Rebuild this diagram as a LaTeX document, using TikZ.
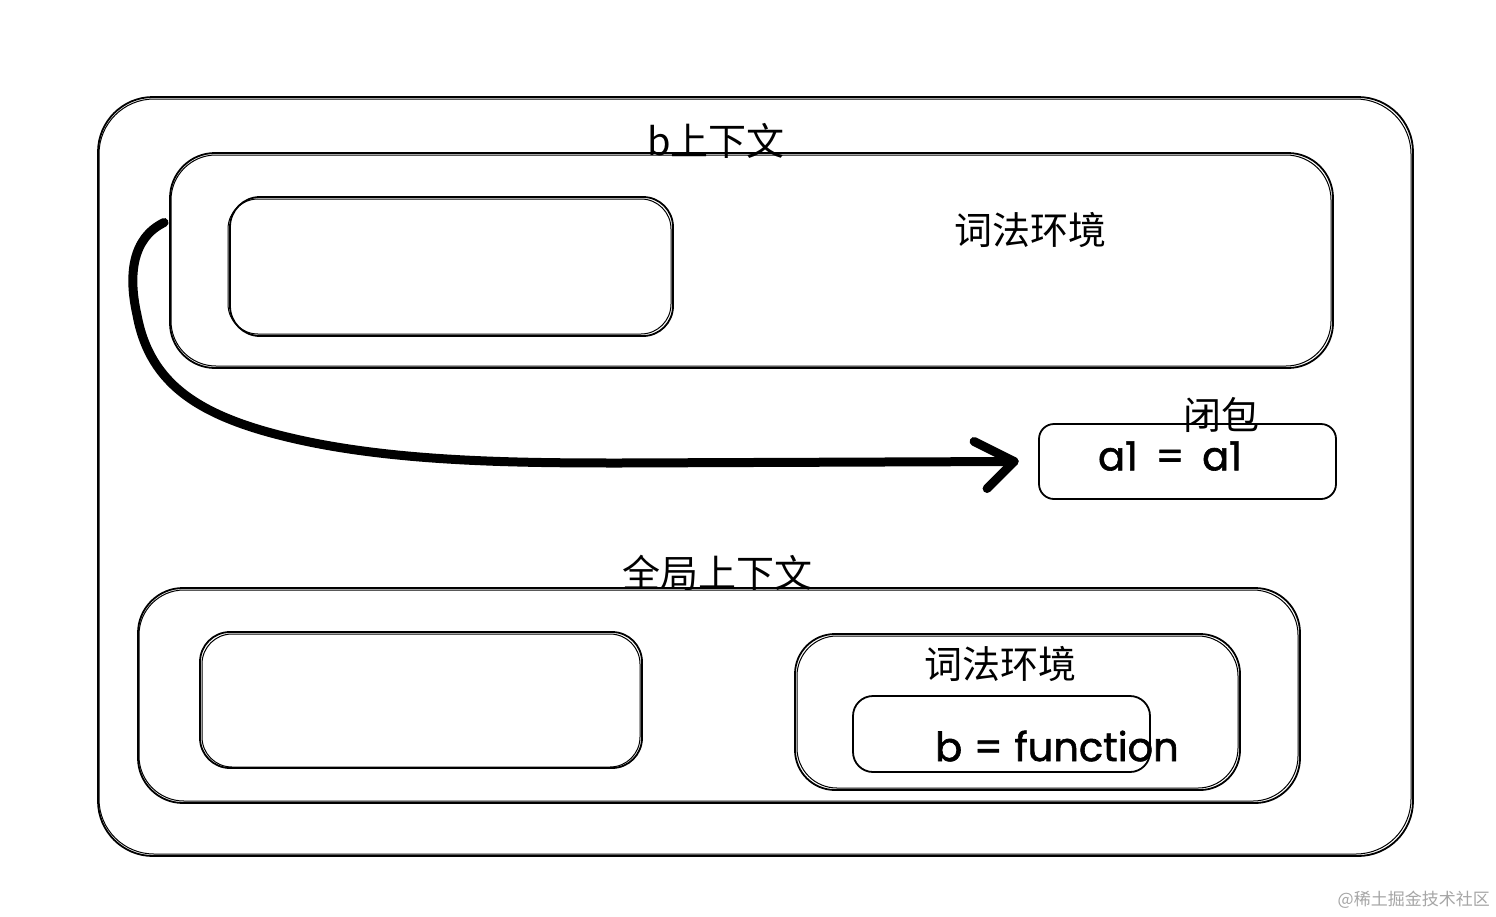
\documentclass[tikz,border=0pt]{standalone}
\usepackage{fontspec}
\setmainfont{Noto Sans CJK SC}
\newfontfamily\latinhand[FakeBold=1.5]{Poppins}
\usetikzlibrary{calc}
\tikzset{
  sk/.style={draw=black, line width=1.8pt, fill=none, inner sep=0pt},
  skb/.style={draw=black, line width=1.0pt},
  lbl/.style={font=\fontsize{38}{40}\selectfont, inner sep=0pt},
  code/.style={font=\latinhand\fontsize{40}{44}\selectfont, inner sep=0pt},
  arrowline/.style={line width=9pt, line cap=round, line join=round},
  wm/.style={font=\fontsize{17}{20}\selectfont, text=black!35, inner sep=0pt}
}
\begin{document}
\begin{tikzpicture}[x=1pt,y=-1pt]
\useasboundingbox[fill=white] (0,0) rectangle (1496,916);
% outer box
\node[sk, rounded corners=55pt, minimum width=1315pt, minimum height=759pt] (outer) at (755.5,476.5) {};
\draw[skb, rounded corners=55pt] (99,99) rectangle (1411,854);
% b context
\node[sk, rounded corners=45pt, minimum width=1163pt, minimum height=215pt] (bctx) at (751.5,260.5) {};
\draw[skb, rounded corners=45pt] (171,155) rectangle (1331,366);
\node[sk, rounded corners=30pt, minimum width=443pt, minimum height=139pt] (benv) at (451.5,266.5) {};
\draw[skb, rounded corners=30pt] (228,199) rectangle (671,334);
\node[lbl] (blab) at (716,141) {b上下文};
\node[lbl] (blex) at (1030,230) {词法环境};
% closure
\node[sk, rounded corners=15pt, minimum width=297pt, minimum height=75pt] (clos) at (1187.5,461.5) {};
\node[lbl] (closlab) at (1221,415) {闭包};
\node[code] (a1) at (1170,456) {a1\hspace{7pt} = \hspace{7pt}a1};
% global context
\node[sk, rounded corners=45pt, minimum width=1162pt, minimum height=215pt] (gctx) at (719,695.5) {};
\draw[skb, rounded corners=45pt] (139,590) rectangle (1298,801);
\node[lbl] (glab) at (717,573) {全局上下文};
\node[sk, rounded corners=30pt, minimum width=442pt, minimum height=136pt] (genv1) at (421,700) {};
\draw[skb, rounded corners=30pt] (202,634) rectangle (640,767);
\node[sk, rounded corners=40pt, minimum width=445pt, minimum height=156pt] (genv2) at (1017.5,712) {};
\draw[skb, rounded corners=40pt] (797,636) rectangle (1238,788);
\node[lbl] (glex) at (1000,664) {词法环境};
\node[sk, rounded corners=20pt, minimum width=297pt, minimum height=76pt] (bfn) at (1001.5,734) {};
\node[code, anchor=west] (bfntext) at (935,746) {b\hspace{1pt} = \hspace{1pt}function};
% arrow
\coordinate (as) at ($(bctx.west)+(-5pt,38pt)$);
\coordinate (ae) at ($(clos.west)+(-24pt,0pt)$);
\draw[arrowline] (as) .. controls (132,238) and (128,275) .. (137,315)
  .. controls (150,385) and (200,418) .. (300,440)
  .. controls (400,462) and (520,463) .. (620,463) -- (ae);
\draw[arrowline] ($(ae)+(-40pt,20pt)$) -- (ae) -- ($(ae)+(-27pt,-27pt)$);
% watermark
\node[wm, anchor=east] (wmark) at (1490,900) {@稀土掘金技术社区};
\end{tikzpicture}
\end{document}
